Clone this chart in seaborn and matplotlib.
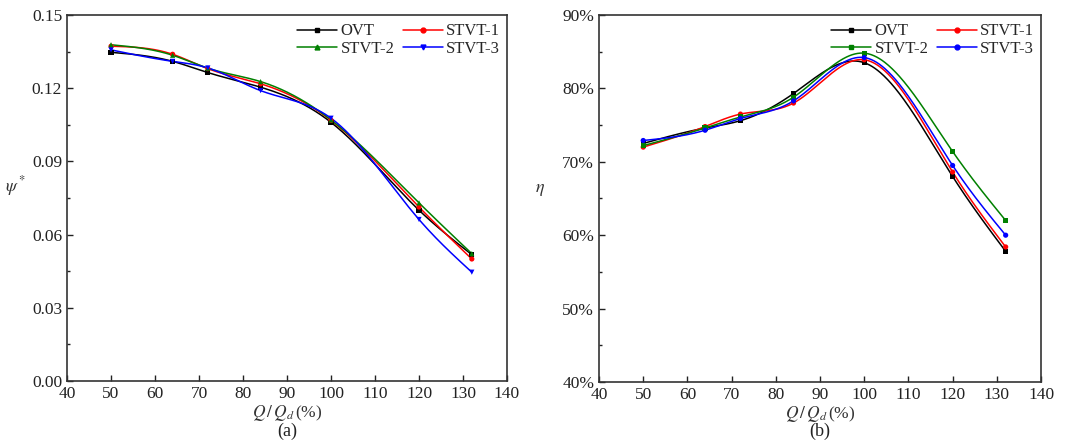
import numpy as np
import pandas as pd
import matplotlib
matplotlib.use("Agg")
import matplotlib.pyplot as plt
from matplotlib.lines import Line2D
from matplotlib.ticker import MultipleLocator, FuncFormatter
import seaborn as sns

# Flow rate ratio Q/Qd (%)
flow = [50, 64, 72, 84, 100, 120, 132]
models = ["OVT", "STVT-1", "STVT-2", "STVT-3"]

# Head coefficient psi*
psi_ovt = [0.1347, 0.1310, 0.1264, 0.1204, 0.1060, 0.0700, 0.0518]
psi_stvt1 = [0.1372, 0.1339, 0.1280, 0.1218, 0.1068, 0.0713, 0.0500]
psi_stvt2 = [0.1378, 0.1335, 0.1282, 0.1227, 0.1070, 0.0730, 0.0522]
psi_stvt3 = [0.1357, 0.1310, 0.1283, 0.1190, 0.1077, 0.0662, 0.0446]

# Efficiency eta (%)
eta_ovt = [72.5, 74.6, 75.6, 79.3, 83.5, 68.0, 57.8]
eta_stvt1 = [72.0, 74.8, 76.5, 78.0, 83.9, 68.6, 58.4]
eta_stvt2 = [72.2, 74.6, 76.1, 78.8, 84.8, 71.4, 62.0]
eta_stvt3 = [72.9, 74.3, 75.9, 78.3, 84.2, 69.5, 60.0]

colors = {"OVT": "#000000", "STVT-1": "#ff0000", "STVT-2": "#008000", "STVT-3": "#0000ff"}
markers_a = {"OVT": "s", "STVT-1": "o", "STVT-2": "^", "STVT-3": "v"}
markers_b = {"OVT": "s", "STVT-1": "o", "STVT-2": "s", "STVT-3": "o"}

# legend fills column by column; this order gives rows OVT|STVT-1, STVT-2|STVT-3
legend_order = ["OVT", "STVT-2", "STVT-1", "STVT-3"]


def natural_spline(x, y, xs):
    """Natural cubic spline through (x, y), evaluated at xs."""
    x = np.asarray(x, float)
    y = np.asarray(y, float)
    n = len(x)
    h = np.diff(x)
    A = np.zeros((n, n))
    b = np.zeros(n)
    A[0, 0] = A[-1, -1] = 1.0
    for i in range(1, n - 1):
        A[i, i - 1] = h[i - 1]
        A[i, i] = 2 * (h[i - 1] + h[i])
        A[i, i + 1] = h[i]
        b[i] = 6 * ((y[i + 1] - y[i]) / h[i] - (y[i] - y[i - 1]) / h[i - 1])
    M = np.linalg.solve(A, b)
    idx = np.clip(np.searchsorted(x, xs) - 1, 0, n - 2)
    x0, x1 = x[idx], x[idx + 1]
    hh = x1 - x0
    t0 = x1 - xs
    t1 = xs - x0
    return (M[idx] * t0 ** 3 / (6 * hh) + M[idx + 1] * t1 ** 3 / (6 * hh)
            + (y[idx] / hh - M[idx] * hh / 6) * t0
            + (y[idx + 1] / hh - M[idx + 1] * hh / 6) * t1)


def build_frames(series):
    pts = pd.DataFrame({
        "Q": np.tile(flow, len(models)),
        "val": np.concatenate(series),
        "model": np.repeat(models, len(flow)),
    })
    xs = np.linspace(flow[0], flow[-1], 400)
    curves = pd.concat([
        pd.DataFrame({"Q": xs, "val": natural_spline(flow, s, xs), "model": m})
        for m, s in zip(models, series)
    ])
    return pts, curves


sns.set_theme(style="ticks")
plt.rcParams["font.family"] = ["Liberation Serif", "DejaVu Serif"]
plt.rcParams["mathtext.fontset"] = "stix"
plt.rcParams["xtick.direction"] = "in"
plt.rcParams["ytick.direction"] = "in"

fig = plt.figure(figsize=(10.76, 4.46), dpi=100)
ax_a = fig.add_axes([0.0623, 0.1457, 0.4089, 0.8207])
ax_b = fig.add_axes([0.5567, 0.1435, 0.4108, 0.8229])

panels = [
    (ax_a, [psi_ovt, psi_stvt1, psi_stvt2, psi_stvt3], markers_a),
    (ax_b, [eta_ovt, eta_stvt1, eta_stvt2, eta_stvt3], markers_b),
]

for ax, series, mk in panels:
    pts, curves = build_frames(series)
    sns.lineplot(data=curves, x="Q", y="val", hue="model", palette=colors,
                 linewidth=1.1, legend=False, ax=ax, sort=False)
    sns.scatterplot(data=pts, x="Q", y="val", hue="model", style="model",
                    markers=mk, palette=colors, s=14, linewidth=0,
                    legend=False, ax=ax, zorder=3)
    handles = [Line2D([], [], color=colors[m], marker=mk[m], markersize=3.5,
                      linewidth=1.1) for m in legend_order]
    ax.legend(handles, legend_order, ncol=2, frameon=False, loc="upper right",
              fontsize=12, handlelength=2.4, handletextpad=0.2,
              columnspacing=0.5, labelspacing=0.1, borderaxespad=0.0,
              bbox_to_anchor=(1.0, 0.995))
    ax.set_xlim(40, 140)
    ax.xaxis.set_major_locator(MultipleLocator(10))
    ax.tick_params(axis="both", which="major", length=4, width=1.0,
                   labelsize=12.5, colors="#222222", labelcolor="#222222")
    ax.tick_params(axis="y", which="minor", length=2.5, width=1.0, colors="#222222")
    for side in ["top", "right", "left", "bottom"]:
        ax.spines[side].set_linewidth(1.2)
        ax.spines[side].set_color("#333333")
    ax.set_xlabel(r"$Q\,/\,Q_d\,$(%)", fontsize=12.5, labelpad=1, color="#333333")

ax_a.set_ylim(0, 0.15)
ax_a.yaxis.set_major_locator(MultipleLocator(0.03))
ax_a.yaxis.set_minor_locator(MultipleLocator(0.015))
ax_a.yaxis.set_major_formatter(FuncFormatter(lambda v, p: f"{v:.2f}"))
ax_a.set_ylabel(r"$\psi^*$", fontsize=13, rotation=0, labelpad=12, color="#333333")

ax_b.set_ylim(40, 90)
ax_b.yaxis.set_major_locator(MultipleLocator(10))
ax_b.yaxis.set_minor_locator(MultipleLocator(5))
ax_b.yaxis.set_major_formatter(FuncFormatter(lambda v, p: f"{v:.0f}%"))
ax_b.set_ylabel(r"$\eta$", fontsize=13, rotation=0, labelpad=16, color="#333333")

fig.text(0.2667, 0.022, "(a)", ha="center", fontsize=13, color="#222222")
fig.text(0.7621, 0.022, "(b)", ha="center", fontsize=13, color="#222222")

fig.savefig("out.png", dpi=100, facecolor="white")
